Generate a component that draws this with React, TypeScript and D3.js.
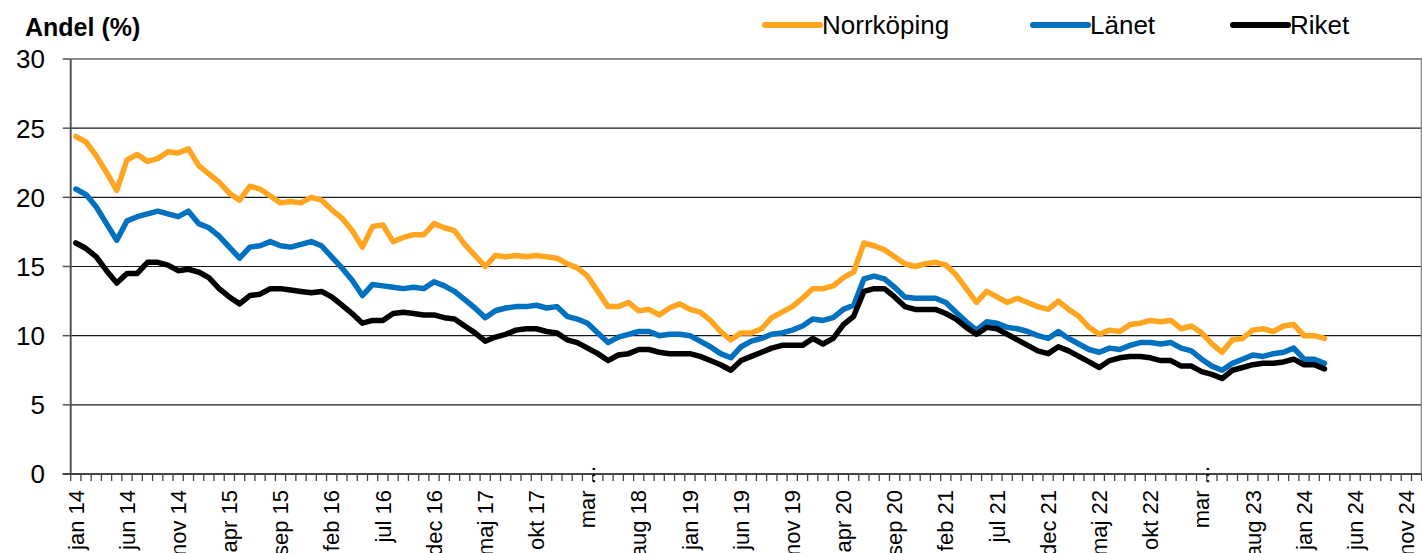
import React, { useEffect, useRef } from 'react';
import * as d3 from 'd3';

const monthNames = ['jan', 'feb', 'mar', 'apr', 'maj', 'jun', 'jul', 'aug', 'sep', 'okt', 'nov', 'dec'];
const years = [14, 15, 16, 17, 18, 19, 20, 21, 22, 23, 24];
const categories = years.flatMap(y => monthNames.map(m => `${m} ${y}`));

// jan 14 .. mar 24
const norrkoping = [
  24.4, 24.0, 23.0, 21.8, 20.5, 22.7, 23.1, 22.6, 22.8, 23.3, 23.2, 23.5,
  22.3, 21.7, 21.1, 20.3, 19.8, 20.8, 20.6, 20.1, 19.6, 19.7, 19.6, 20.0,
  19.8, 19.1, 18.5, 17.6, 16.4, 17.9, 18.0, 16.8, 17.1, 17.3, 17.3, 18.1,
  17.8, 17.6, 16.6, 15.8, 15.0, 15.8, 15.7, 15.8, 15.7, 15.8, 15.7, 15.6,
  15.2, 14.9, 14.3, 13.2, 12.1, 12.1, 12.4, 11.8, 11.9, 11.5, 12.0, 12.3,
  11.9, 11.7, 11.1, 10.3, 9.7, 10.2, 10.2, 10.5, 11.3, 11.7, 12.1, 12.7,
  13.4, 13.4, 13.6, 14.2, 14.6, 16.7, 16.5, 16.2, 15.7, 15.2, 15.0, 15.2,
  15.3, 15.1, 14.4, 13.4, 12.4, 13.2, 12.8, 12.4, 12.7, 12.4, 12.1, 11.9,
  12.5, 11.9, 11.4, 10.6, 10.1, 10.4, 10.3, 10.8, 10.9, 11.1, 11.0, 11.1,
  10.5, 10.7, 10.2, 9.4, 8.8, 9.7, 9.8, 10.4, 10.5, 10.3, 10.7, 10.8,
  10.0, 10.0, 9.8
];

const lanet = [
  20.6, 20.2, 19.3, 18.1, 16.9, 18.3, 18.6, 18.8, 19.0, 18.8, 18.6, 19.0,
  18.1, 17.8, 17.2, 16.4, 15.6, 16.4, 16.5, 16.8, 16.5, 16.4, 16.6, 16.8,
  16.5, 15.7, 14.9, 14.0, 12.9, 13.7, 13.6, 13.5, 13.4, 13.5, 13.4, 13.9,
  13.6, 13.2, 12.6, 12.0, 11.3, 11.8, 12.0, 12.1, 12.1, 12.2, 12.0, 12.1,
  11.4, 11.2, 10.9, 10.2, 9.5, 9.9, 10.1, 10.3, 10.3, 10.0, 10.1, 10.1,
  10.0, 9.6, 9.2, 8.7, 8.4, 9.2, 9.6, 9.8, 10.1, 10.2, 10.4, 10.7,
  11.2, 11.1, 11.3, 11.9, 12.2, 14.1, 14.3, 14.1, 13.5, 12.8, 12.7, 12.7,
  12.7, 12.4, 11.7, 11.0, 10.4, 11.0, 10.9, 10.6, 10.5, 10.3, 10.0, 9.8,
  10.3, 9.8, 9.4, 9.0, 8.8, 9.1, 9.0, 9.3, 9.5, 9.5, 9.4, 9.5,
  9.1, 8.9, 8.3, 7.8, 7.5, 8.0, 8.3, 8.6, 8.5, 8.7, 8.8, 9.1,
  8.3, 8.3, 8.0
];

const riket = [
  16.7, 16.3, 15.7, 14.7, 13.8, 14.5, 14.5, 15.3, 15.3, 15.1, 14.7, 14.8,
  14.6, 14.2, 13.4, 12.8, 12.3, 12.9, 13.0, 13.4, 13.4, 13.3, 13.2, 13.1,
  13.2, 12.8, 12.2, 11.6, 10.9, 11.1, 11.1, 11.6, 11.7, 11.6, 11.5, 11.5,
  11.3, 11.2, 10.7, 10.2, 9.6, 9.9, 10.1, 10.4, 10.5, 10.5, 10.3, 10.2,
  9.7, 9.5, 9.1, 8.7, 8.2, 8.6, 8.7, 9.0, 9.0, 8.8, 8.7, 8.7,
  8.7, 8.5, 8.2, 7.9, 7.5, 8.2, 8.5, 8.8, 9.1, 9.3, 9.3, 9.3,
  9.8, 9.4, 9.8, 10.8, 11.4, 13.2, 13.4, 13.4, 12.8, 12.1, 11.9, 11.9,
  11.9, 11.6, 11.2, 10.6, 10.1, 10.6, 10.5, 10.1, 9.7, 9.3, 8.9, 8.7,
  9.2, 8.9, 8.5, 8.1, 7.7, 8.2, 8.4, 8.5, 8.5, 8.4, 8.2, 8.2,
  7.8, 7.8, 7.4, 7.2, 6.9, 7.5, 7.7, 7.9, 8.0, 8.0, 8.1, 8.3,
  7.9, 7.9, 7.6
];

const yTicks = [0, 5, 10, 15, 20, 25, 30];
const labelEvery = 5;
const truncatedLabels = ['mar 18', 'mar 23'];

const series = [
  { name: 'Norrköping', values: norrkoping, color: '#FFA51F' },
  { name: 'Länet', values: lanet, color: '#0070C0' },
  { name: 'Riket', values: riket, color: '#000000' },
];

const W = 1422;
const H = 553;
const FONT = "'Liberation Sans', Arial, sans-serif";

const App = () => {
  const ref = useRef<SVGSVGElement | null>(null);

  useEffect(() => {
    const svg = d3.select(ref.current);
    svg.selectAll('*').remove();

    const left = 70.7, right = 1421.7, top = 59, bottom = 474;

    const x = d3.scaleBand<string>().domain(categories).range([left, right]).padding(0);
    const y = d3.scaleLinear().domain([0, 30]).range([bottom, top]);
    const cx = (i: number) => (x(categories[i]) as number) + x.bandwidth() / 2;

    // grid
    svg.append('g')
      .selectAll('line')
      .data(yTicks.filter(t => t > 0 && t < 30))
      .join('line')
      .attr('x1', left).attr('x2', right)
      .attr('y1', d => y(d)).attr('y2', d => y(d))
      .attr('stroke', '#1a1a1a').attr('stroke-width', 1.2);

    // plot border top + right
    svg.append('line').attr('x1', left).attr('x2', right + 0.5).attr('y1', y(30)).attr('y2', y(30))
      .attr('stroke', '#8a8a8a').attr('stroke-width', 2);
    svg.append('line').attr('x1', right).attr('x2', right).attr('y1', y(30)).attr('y2', bottom)
      .attr('stroke', '#8a8a8a').attr('stroke-width', 2);

    // y axis
    svg.append('line').attr('x1', left).attr('x2', left).attr('y1', y(30)).attr('y2', bottom)
      .attr('stroke', '#555').attr('stroke-width', 2);
    svg.append('g')
      .selectAll('line')
      .data(yTicks)
      .join('line')
      .attr('x1', left - 8).attr('x2', left)
      .attr('y1', d => y(d)).attr('y2', d => y(d))
      .attr('stroke', '#555').attr('stroke-width', 1.5);
    svg.append('g')
      .selectAll('text')
      .data(yTicks)
      .join('text')
      .attr('x', 45).attr('y', d => y(d))
      .attr('dy', '0.36em')
      .attr('text-anchor', 'end')
      .style('font-family', FONT).style('font-size', '26px').style('fill', '#000')
      .text(d => d);

    // x axis
    svg.append('line').attr('x1', left - 8).attr('x2', right).attr('y1', bottom).attr('y2', bottom)
      .attr('stroke', '#444').attr('stroke-width', 2);
    const bounds = d3.range(categories.length + 1).map(i => left + i * x.bandwidth());
    svg.append('g')
      .selectAll('line')
      .data(bounds)
      .join('line')
      .attr('x1', d => d).attr('x2', d => d)
      .attr('y1', bottom).attr('y2', bottom + 7)
      .attr('stroke', '#444').attr('stroke-width', 1.3);

    const labelIdx = d3.range(0, categories.length, labelEvery);
    svg.append('g')
      .selectAll('text')
      .data(labelIdx)
      .join('text')
      .attr('transform', i => {
        const t = truncatedLabels.includes(categories[i]);
        return `translate(${cx(i)},${t ? 466 : 490}) rotate(-90)`;
      })
      .attr('dy', '0.35em')
      .attr('text-anchor', 'end')
      .style('font-family', FONT).style('font-size', '22px').style('fill', '#000')
      .text(i => truncatedLabels.includes(categories[i]) ? categories[i].split(' ')[0] + ' ...' : categories[i]);

    // lines
    series.forEach(s => {
      const line = d3.line<number>()
        .x((_, i) => cx(i))
        .y(d => y(d));
      svg.append('path')
        .datum(s.values)
        .attr('fill', 'none')
        .attr('stroke', s.color)
        .attr('stroke-width', 5.5)
        .attr('stroke-linejoin', 'round')
        .attr('stroke-linecap', 'round')
        .attr('d', line);
    });

    // title
    svg.append('text').attr('x', 25).attr('y', 36)
      .style('font-family', FONT).style('font-size', '25px').style('font-weight', 'bold')
      .text('Andel (%)');

    // legend
    const legendX = [765, 1033, 1233];
    series.forEach((s, i) => {
      svg.append('line')
        .attr('x1', legendX[i]).attr('x2', legendX[i] + 55)
        .attr('y1', 25).attr('y2', 25)
        .attr('stroke', s.color).attr('stroke-width', 6).attr('stroke-linecap', 'round');
      svg.append('text')
        .attr('x', legendX[i] + 57).attr('y', 34)
        .style('font-family', FONT).style('font-size', '26px').style('fill', '#000')
        .text(s.name);
    });
  }, []);

  return (
    <svg ref={ref} width={W} height={H}
      style={{ position: 'absolute', left: 0, top: 0, background: '#fff' }} />
  );
};

export default App;
